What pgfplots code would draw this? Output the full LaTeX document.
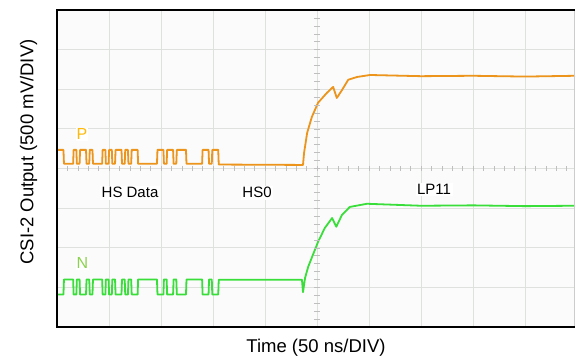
\documentclass[border=0pt]{standalone}
\usepackage{pgfplots}
\pgfplotsset{compat=1.18}
\usepackage{fontspec}
\setmainfont{Liberation Sans}
\definecolor{ptrace}{RGB}{236,148,28}
\definecolor{ntrace}{RGB}{58,222,58}
\definecolor{plabel}{RGB}{255,185,10}
\definecolor{nlabel}{RGB}{140,210,80}
\definecolor{gridc}{RGB}{222,225,222}
\definecolor{bgc}{RGB}{250,251,250}
\begin{document}
\begin{tikzpicture}
\begin{axis}[
  at={(0,0)}, anchor=south west,
  scale only axis, width=518pt, height=317pt,
  xmin=0, xmax=9.96, ymin=0, ymax=8,
  xtick={1,...,9}, ytick={1,...,7},
  xticklabels={}, yticklabels={},
  major tick length=0pt,
  grid=major, grid style={gridc, line width=0.8pt},
  axis line style={draw=none},
  axis background/.style={fill=bgc},
  xlabel={Time (50 ns/DIV)}, ylabel={CSI-2 Output (500 mV/DIV)},
  label style={font=\fontsize{18.5}{20}\selectfont},
  xlabel style={at={(axis description cs:0.5,-0.082)}, anchor=base},
  ylabel style={at={(axis description cs:-0.055,0.552)}, anchor=center},
  clip=true,
]
% P trace
\addplot[ptrace, line width=1.8pt, line join=round] coordinates {
(0,4.47) (0.124,4.47) (0.134,4.12) (0.31,4.12) (0.32,4.47) (0.372,4.47) (0.382,4.12) (0.434,4.12) (0.444,4.47) (0.558,4.47) (0.568,4.12) (0.62,4.12) (0.63,4.47) (0.682,4.47) (0.692,4.12) (0.868,4.12) (0.878,4.47) (0.93,4.47) (0.94,4.12) (0.992,4.12) (1.002,4.47) (1.054,4.47) (1.064,4.12) (1.116,4.12) (1.126,4.47) (1.24,4.47) (1.25,4.12) (1.302,4.12) (1.312,4.47) (1.364,4.47) (1.374,4.12) (1.426,4.12) (1.436,4.47) (1.55,4.47) (1.56,4.12) (1.922,4.12) (1.932,4.47) (2.046,4.47) (2.056,4.12) (2.108,4.12) (2.118,4.47) (2.232,4.47) (2.242,4.12) (2.294,4.12) (2.304,4.47) (2.48,4.47) (2.49,4.12) (2.79,4.12) (2.8,4.47) (2.914,4.47) (2.924,4.12) (2.976,4.12) (2.986,4.47) (3.1,4.47) (3.11,4.10) (4.73,4.09)
(4.75,4.39) (4.81,4.90) (4.90,5.30) (5.02,5.66) (5.19,5.91) (5.31,6.06) (5.38,5.78) (5.48,5.98) (5.60,6.24) (5.77,6.31) (6.02,6.36) (7,6.33) (8,6.34) (9,6.32) (9.96,6.34)
};
% N trace
\addplot[ntrace, line width=1.8pt, line join=round] coordinates {
(0,0.82) (0.124,0.82) (0.134,1.20) (0.31,1.20) (0.32,0.82) (0.372,0.82) (0.382,1.20) (0.434,1.20) (0.444,0.82) (0.558,0.82) (0.568,1.20) (0.62,1.20) (0.63,0.82) (0.682,0.82) (0.692,1.20) (0.868,1.20) (0.878,0.82) (0.93,0.82) (0.94,1.20) (0.992,1.20) (1.002,0.82) (1.054,0.82) (1.064,1.20) (1.116,1.20) (1.126,0.82) (1.24,0.82) (1.25,1.20) (1.302,1.20) (1.312,0.82) (1.364,0.82) (1.374,1.20) (1.426,1.20) (1.436,0.82) (1.55,0.82) (1.56,1.20) (1.922,1.20) (1.932,0.82) (2.046,0.82) (2.056,1.20) (2.108,1.20) (2.118,0.82) (2.232,0.82) (2.242,1.20) (2.294,1.20) (2.304,0.82) (2.48,0.82) (2.49,1.20) (2.79,1.20) (2.8,0.82) (2.914,0.82) (2.924,1.20) (2.976,1.20) (2.986,0.82) (3.1,0.82) (3.11,1.19) (4.71,1.19)
(4.73,0.88) (4.77,1.24) (4.83,1.52) (5.02,2.15) (5.15,2.50) (5.29,2.75) (5.37,2.53) (5.48,2.83) (5.63,3.03) (5.96,3.11) (7,3.06) (8,3.07) (9,3.05) (9.96,3.06)
};
\node[text=plabel, font=\fontsize{16}{18}\selectfont, fill=white, inner sep=1pt, anchor=base] at (axis cs:0.48,4.72) {P};
\node[text=nlabel, font=\fontsize{16}{18}\selectfont, fill=white, inner sep=1pt, anchor=base] at (axis cs:0.49,1.465) {N};
\node[font=\fontsize{15}{17}\selectfont, fill=white, inner sep=1.5pt, anchor=base] at (axis cs:1.404,3.258) {HS Data};
\node[font=\fontsize{15}{17}\selectfont, fill=white, inner sep=1.5pt, anchor=base] at (axis cs:3.846,3.258) {HS0};
\node[font=\fontsize{15}{17}\selectfont, fill=white, inner sep=1.5pt, anchor=base] at (axis cs:7.25,3.333) {LP11};
\end{axis}
\begin{scope}[x=52.008pt, y=39.625pt]
\foreach \i in {0,...,49} \draw[gray!50, line width=0.5pt] (\i*0.2,3.94) -- (\i*0.2,4.06);
\foreach \j in {0,...,40} \draw[gray!50, line width=0.5pt] (4.94,\j*0.2) -- (5.06,\j*0.2);
\end{scope}
\draw[gray!40, line width=0.8pt] (517.5pt,0) -- (517.5pt,317pt);
\draw[black, line width=2.6pt] (518pt,317pt) -- (0,317pt) -- (0,0) -- (518pt,0);
\pgfresetboundingbox
\path[use as bounding box] (-57pt,-32pt) rectangle (519pt,327pt);
\end{tikzpicture}
\end{document}
